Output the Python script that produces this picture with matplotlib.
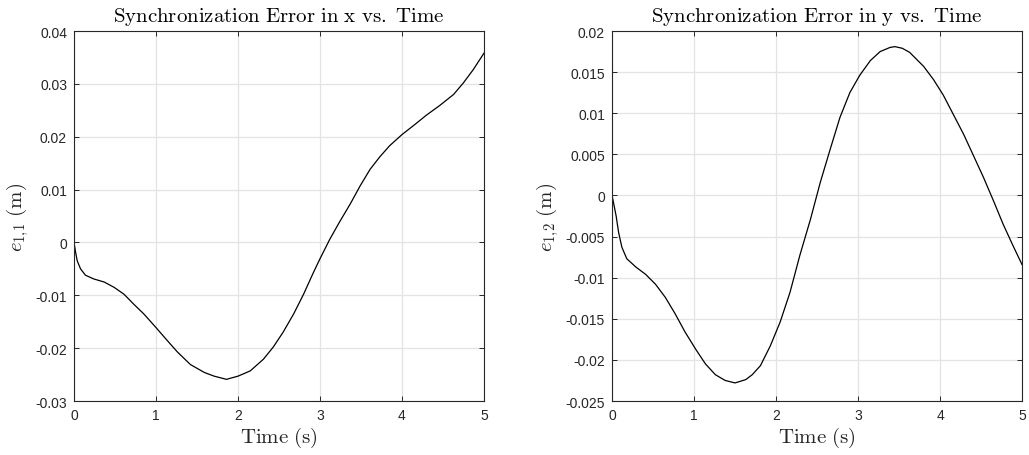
import numpy as np
import matplotlib
matplotlib.use("Agg")
import matplotlib.pyplot as plt

# data (time in s, error in m)
t_x = [0, 0.02, 0.04, 0.08, 0.14, 0.24, 0.37, 0.49, 0.61, 0.73, 0.85, 1.00, 1.14,
       1.26, 1.42, 1.59, 1.71, 1.86, 2.00, 2.15, 2.31, 2.43, 2.55, 2.68, 2.80, 2.92,
       3.00, 3.12, 3.24, 3.37, 3.49, 3.61, 3.73, 3.85, 4.00, 4.14, 4.30, 4.46, 4.63,
       4.75, 4.87, 5.00]
e_x = [0, -0.0019, -0.0035, -0.0050, -0.0062, -0.0069, -0.0075, -0.0085, -0.0098,
       -0.0117, -0.0135, -0.0161, -0.0186, -0.0207, -0.0231, -0.0246, -0.0253, -0.0259,
       -0.0253, -0.0243, -0.0221, -0.0198, -0.0170, -0.0135, -0.0098, -0.0057, -0.0031,
       0.0006, 0.0039, 0.0073, 0.0107, 0.0138, 0.0162, 0.0183, 0.0204, 0.0221, 0.0241,
       0.0259, 0.0280, 0.0302, 0.0327, 0.0358]

t_y = [0, 0.05, 0.08, 0.12, 0.18, 0.29, 0.41, 0.53, 0.65, 0.77, 0.89, 1.02, 1.14,
       1.26, 1.38, 1.50, 1.63, 1.71, 1.81, 1.93, 2.05, 2.17, 2.29, 2.42, 2.54, 2.66,
       2.78, 2.90, 3.02, 3.15, 3.27, 3.39, 3.45, 3.54, 3.63, 3.80, 3.92, 4.04, 4.16,
       4.29, 4.41, 4.53, 4.65, 4.77, 4.89, 5.00]
e_y = [0, -0.0025, -0.0045, -0.0063, -0.0077, -0.0087, -0.0096, -0.0108, -0.0124,
       -0.0144, -0.0166, -0.0187, -0.0205, -0.0218, -0.0225, -0.0228, -0.0224, -0.0218,
       -0.0207, -0.0183, -0.0154, -0.0118, -0.0073, -0.0029, 0.0016, 0.0056, 0.0095,
       0.0125, 0.0146, 0.0164, 0.0175, 0.0180, 0.0181, 0.0179, 0.0174, 0.0157, 0.0141,
       0.0122, 0.0099, 0.0074, 0.0048, 0.0022, -0.0006, -0.0035, -0.0061, -0.0084]

x_ticks = [0, 1, 2, 3, 4, 5]
yticks_x = [-0.03, -0.02, -0.01, 0, 0.01, 0.02, 0.03, 0.04]
ylabels_x = ['-0.03', '-0.02', '-0.01', '0', '0.01', '0.02', '0.03', '0.04']
yticks_y = [-0.025, -0.02, -0.015, -0.01, -0.005, 0, 0.005, 0.01, 0.015, 0.02]
ylabels_y = ['-0.025', '-0.02', '-0.015', '-0.01', '-0.005', '0', '0.005', '0.01', '0.015', '0.02']

# latex-like look for titles / labels, helvetica-ish ticks
plt.rcParams['mathtext.fontset'] = 'cm'
plt.rcParams['font.family'] = 'Liberation Sans'

fig = plt.figure(figsize=(10.29, 4.56), dpi=100)
ax1 = fig.add_axes([0.0719, 0.1184, 0.3984, 0.8114])
ax2 = fig.add_axes([0.5948, 0.1184, 0.3984, 0.8114])

panels = [
    (ax1, t_x, e_x, r'$\mathrm{Synchronization\ Error\ in\ x\ vs.\ Time}$',
     r'$e_{1{,}1}\ \mathrm{(m)}$', (-0.03, 0.04), yticks_x, ylabels_x),
    (ax2, t_y, e_y, r'$\mathrm{Synchronization\ Error\ in\ y\ vs.\ Time}$',
     r'$e_{1{,}2}\ \mathrm{(m)}$', (-0.025, 0.02), yticks_y, ylabels_y),
]

for ax, t, e, title, ylab, ylim, yt, ytl in panels:
    ax.plot(t, e, color='black', lw=0.9, solid_joinstyle='round')
    ax.set_xlim(0, 5)
    ax.set_ylim(*ylim)
    ax.set_xticks(x_ticks)
    ax.set_yticks(yt)
    ax.set_yticklabels(ytl)
    ax.grid(True, color='#e3e3e3', lw=0.9)
    ax.set_axisbelow(True)
    ax.tick_params(direction='in', length=3.5, width=0.7, labelsize=10,
                   top=True, right=True, colors='#262626', pad=5)
    for s in ax.spines.values():
        s.set_color('#262626')
        s.set_linewidth(0.8)
    ax.set_title(title, fontsize=15, pad=7)
    ax.set_xlabel(r'$\mathrm{Time\ (s)}$', fontsize=15, labelpad=2, color='#262626')
    ax.set_ylabel(ylab, fontsize=15, labelpad=3, color='#262626')

fig.savefig('out.png', dpi=100)
